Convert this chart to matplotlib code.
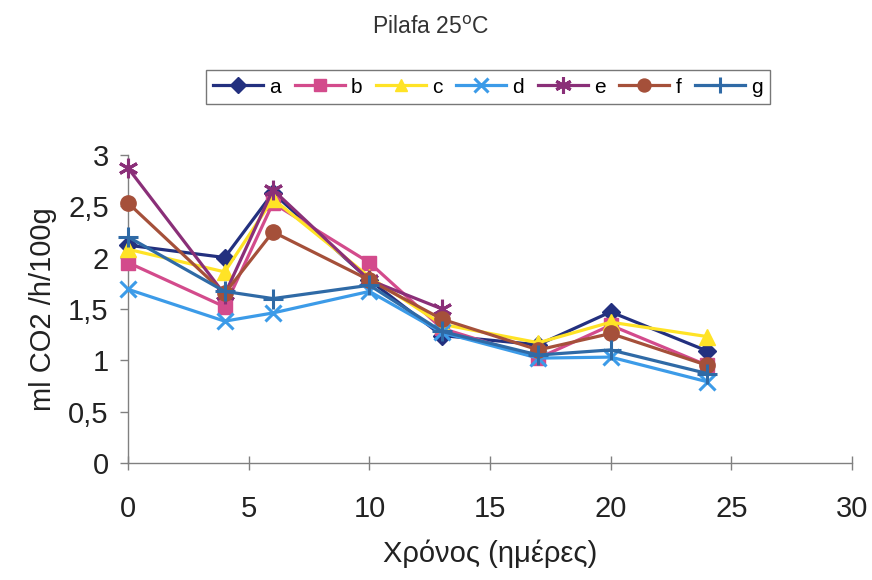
import matplotlib
matplotlib.use("Agg")
import matplotlib.pyplot as plt
from matplotlib.ticker import FuncFormatter

# ---------------------- DATA ----------------------
days = [0, 4, 6, 10, 13, 17, 20, 24]
days_e = [0, 4, 6, 10, 13]

a = [2.12, 2.00, 2.63, 1.78, 1.24, 1.15, 1.47, 1.09]
b = [1.95, 1.52, 2.53, 1.95, 1.31, 1.02, 1.34, 0.95]
c = [2.08, 1.86, 2.57, 1.81, 1.35, 1.17, 1.37, 1.23]
d = [1.69, 1.38, 1.46, 1.67, 1.27, 1.02, 1.03, 0.79]
e = [2.87, 1.64, 2.66, 1.78, 1.50]
f = [2.53, 1.65, 2.25, 1.78, 1.40, 1.10, 1.26, 0.95]
g = [2.20, 1.67, 1.60, 1.73, 1.28, 1.05, 1.10, 0.87]

series = [
    ("a", days, a, "#23307f", "D", 9),
    ("b", days, b, "#d34b8c", "s", 10),
    ("c", days, c, "#ffe326", "^", 11),
    ("d", days, d, "#3c9be8", "x", 12),
    ("e", days_e, e, "#8a2f78", (6, 2, 0), 14),
    ("f", days, f, "#a5503a", "o", 11),
    ("g", days, g, "#2f6aa6", "+", 14),
]

plt.rcParams["font.family"] = ["Liberation Sans", "DejaVu Sans"]

fig = plt.figure(figsize=(8.72, 5.8), dpi=100)
ax = fig.add_axes([0.147, 0.202, 0.830, 0.531])

for name, x, y, color, marker, ms in series:
    mew = 2.2 if marker in ("x", "+") or isinstance(marker, tuple) else 1
    ax.plot(x, y, color=color, linewidth=2.3, marker=marker, markersize=ms,
            markeredgewidth=mew, markerfacecolor=color, markeredgecolor=color,
            label=name, clip_on=False, zorder=3)

ax.set_xlim(0, 30)
ax.set_ylim(0, 3)
ax.set_xticks(range(0, 31, 5))
ax.set_yticks([0, 0.5, 1, 1.5, 2, 2.5, 3])
ax.yaxis.set_major_formatter(FuncFormatter(lambda v, p: f"{v:g}".replace(".", ",")))

for side in ("top", "right"):
    ax.spines[side].set_visible(False)
for side in ("left", "bottom"):
    ax.spines[side].set_color("#808080")
    ax.spines[side].set_linewidth(1)

ax.tick_params(axis="both", labelsize=21, colors="#808080", labelcolor="#222222",
               length=6, width=1)
ax.tick_params(axis="x", direction="inout", pad=18, length=10)
ax.tick_params(axis="y", direction="out", pad=8)

ax.set_xlabel("Χρόνος (ημέρες)", fontsize=21, color="#222222", labelpad=12)
ax.set_ylabel("ml CO2 /h/100g", fontsize=21, color="#222222", labelpad=8)

fig.text(0.494, 0.952, "Pilafa 25$^{\\rm o}$C", ha="center", va="center",
         fontsize=16.5, color="#333333")

leg = ax.legend(ncol=7, loc="center", bbox_to_anchor=(0.497, 1.22),
                fontsize=15, frameon=True, fancybox=False, edgecolor="#555555",
                handlelength=2.4, handletextpad=0.3, columnspacing=0.65,
                borderpad=0.35, markerscale=0.85)
leg.get_frame().set_linewidth(1)

fig.savefig("out.png", dpi=100)
